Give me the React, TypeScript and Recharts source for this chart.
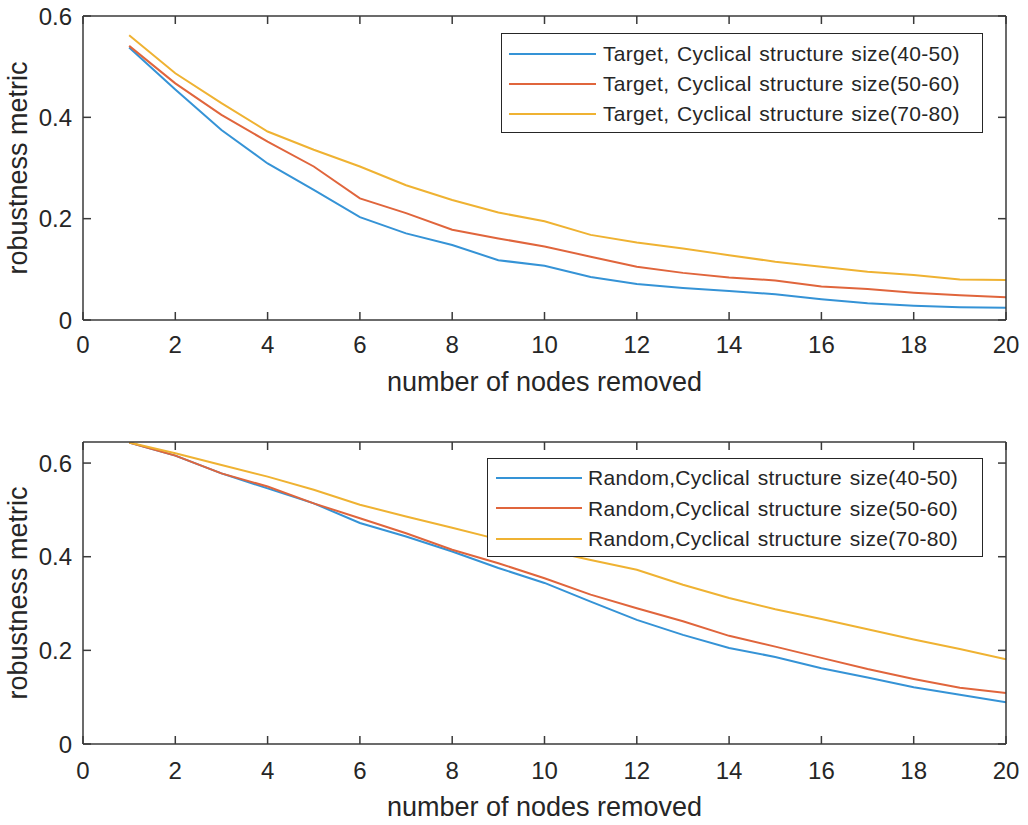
import React from 'react';
import { LineChart, Line, XAxis, YAxis, Legend } from 'recharts';

const nodesRemoved = [1, 2, 3, 4, 5, 6, 7, 8, 9, 10, 11, 12, 13, 14, 15, 16, 17, 18, 19, 20];
const xTicks = [0, 2, 4, 6, 8, 10, 12, 14, 16, 18, 20];
const yTicks = [0, 0.2, 0.4, 0.6];

const targetNames = [
  'Target, Cyclical structure size(40-50)',
  'Target, Cyclical structure size(50-60)',
  'Target, Cyclical structure size(70-80)',
];
const targetSize4050 = [0.538, 0.455, 0.375, 0.309, 0.257, 0.203, 0.171, 0.148, 0.118, 0.107, 0.085, 0.071, 0.063, 0.057, 0.051, 0.041, 0.033, 0.028, 0.025, 0.024];
const targetSize5060 = [0.541, 0.467, 0.405, 0.352, 0.303, 0.240, 0.211, 0.178, 0.161, 0.145, 0.125, 0.105, 0.093, 0.084, 0.078, 0.066, 0.061, 0.054, 0.049, 0.045];
const targetSize7080 = [0.562, 0.487, 0.428, 0.372, 0.336, 0.303, 0.266, 0.237, 0.212, 0.195, 0.168, 0.153, 0.141, 0.128, 0.115, 0.105, 0.095, 0.089, 0.080, 0.079];

const randomNames = [
  'Random,Cyclical structure size(40-50)',
  'Random,Cyclical structure size(50-60)',
  'Random,Cyclical structure size(70-80)',
];
const randomSize4050 = [0.644, 0.616, 0.578, 0.546, 0.514, 0.472, 0.443, 0.411, 0.376, 0.344, 0.304, 0.265, 0.233, 0.205, 0.186, 0.162, 0.142, 0.121, 0.105, 0.089];
const randomSize5060 = [0.644, 0.616, 0.578, 0.550, 0.514, 0.482, 0.450, 0.415, 0.386, 0.354, 0.319, 0.290, 0.262, 0.231, 0.208, 0.184, 0.160, 0.139, 0.120, 0.109];
const randomSize7080 = [0.644, 0.621, 0.596, 0.571, 0.543, 0.511, 0.486, 0.462, 0.437, 0.415, 0.393, 0.372, 0.340, 0.312, 0.288, 0.267, 0.245, 0.223, 0.203, 0.181];

const seriesColors = ['#3593d6', '#e0653c', '#efb232'];
const xLabel = 'number of nodes removed';
const yLabel = 'robustness metric';

const FONT = '"Liberation Sans", Arial, Helvetica, sans-serif';
const INK = '#262626';
const AXIS = '#3a3a3a';
const TICK_LEN = 8;
const TICK_FONT = 24;

function buildRows(a: number[], b: number[], c: number[]) {
  return nodesRemoved.map((n, i) => ({ n, s1: a[i], s2: b[i], s3: c[i] }));
}

const targetRows = buildRows(targetSize4050, targetSize5060, targetSize7080);
const randomRows = buildRows(randomSize4050, randomSize5060, randomSize7080);

const fmt = (v: number) => String(v);

function makeBottomTick(margin: number) {
  return (props: any) => {
    const { x, y, payload } = props;
    const axisY = y - margin;
    return (
      <g>
        <line x1={x} x2={x} y1={axisY} y2={axisY - TICK_LEN} stroke={AXIS} strokeWidth={1.5} />
        <text x={x} y={y} dy="0.71em" textAnchor="middle" fontSize={TICK_FONT} fill={INK} fontFamily={FONT}>
          {fmt(payload.value)}
        </text>
      </g>
    );
  };
}

function makeLeftTick(margin: number) {
  return (props: any) => {
    const { x, y, payload } = props;
    const axisX = x + margin;
    return (
      <g>
        <line x1={axisX} x2={axisX + TICK_LEN} y1={y} y2={y} stroke={AXIS} strokeWidth={1.5} />
        <text x={x} y={y} dy="0.355em" textAnchor="end" fontSize={TICK_FONT} fill={INK} fontFamily={FONT}>
          {fmt(payload.value)}
        </text>
      </g>
    );
  };
}

const TopTick = (props: any) => {
  const { x, y } = props;
  return <line x1={x} x2={x} y1={y} y2={y + TICK_LEN} stroke={AXIS} strokeWidth={1.5} />;
};

const RightTick = (props: any) => {
  const { x, y } = props;
  return <line x1={x} x2={x - TICK_LEN} y1={y} y2={y} stroke={AXIS} strokeWidth={1.5} />;
};

type LegendCfg = { left: number; top: number; width: number; height: number; padTop: number; rowH: number; lineLeft: number; lineW: number; gap: number };

function makeLegend(cfg: LegendCfg) {
  return (props: any) => {
    const payload = (props.payload || []).filter((e: any) => e.type !== 'none');
    return (
      <div
        style={{
          boxSizing: 'border-box',
          width: cfg.width,
          height: cfg.height,
          border: `1.5px solid ${INK}`,
          background: '#fff',
          paddingTop: cfg.padTop,
          fontFamily: FONT,
        }}
      >
        {payload.map((e: any, i: number) => (
          <div key={i} style={{ display: 'flex', alignItems: 'center', height: cfg.rowH, paddingLeft: cfg.lineLeft }}>
            <svg width={cfg.lineW} height={4} style={{ display: 'block' }}>
              <line x1={0} y1={2} x2={cfg.lineW} y2={2} stroke={e.color} strokeWidth={2} />
            </svg>
            <span
              style={{
                marginLeft: cfg.gap,
                fontSize: 21,
                color: INK,
                whiteSpace: 'pre',
                lineHeight: 1,
                letterSpacing: 0.3,
                wordSpacing: 1.5,
              }}
            >
              {e.value}
            </span>
          </div>
        ))}
      </div>
    );
  };
}

type PanelProps = {
  rows: any[];
  names: string[];
  height: number;
  marginTop: number;
  marginBottom: number;
  xAxisHeight: number;
  xTickMargin: number;
  yMax: number;
  legend: LegendCfg;
};

const Y_TICK_MARGIN = 11;

function Panel(p: PanelProps) {
  return (
    <LineChart
      width={1028}
      height={p.height}
      data={p.rows}
      margin={{ top: p.marginTop - 1, right: 21, left: 0, bottom: p.marginBottom }}
      style={{ fontFamily: FONT }}
    >
      <XAxis
        xAxisId="b"
        type="number"
        dataKey="n"
        domain={[0, 20]}
        ticks={xTicks}
        interval={0}
        height={p.xAxisHeight}
        tickSize={0}
        tickMargin={p.xTickMargin}
        tick={makeBottomTick(p.xTickMargin)}
        stroke={AXIS}
        strokeWidth={1.5}
        allowDataOverflow
        label={{ value: xLabel, position: 'insideBottom', offset: 0, fontSize: 27, fill: INK, fontFamily: FONT }}
      />
      <XAxis
        xAxisId="t"
        orientation="top"
        type="number"
        dataKey="n"
        domain={[0, 20]}
        ticks={xTicks}
        interval={0}
        height={1}
        tickSize={0}
        tickMargin={0}
        tick={TopTick}
        stroke={AXIS}
        strokeWidth={1.5}
        allowDataOverflow
      />
      <YAxis
        yAxisId="l"
        type="number"
        domain={[0, p.yMax]}
        ticks={yTicks}
        interval={0}
        width={83}
        tickSize={0}
        tickMargin={Y_TICK_MARGIN}
        tick={makeLeftTick(Y_TICK_MARGIN)}
        stroke={AXIS}
        strokeWidth={1.5}
        allowDataOverflow
        label={{ value: yLabel, angle: -90, position: 'insideLeft', offset: 17, fontSize: 27, fill: INK, fontFamily: FONT, style: { textAnchor: 'middle' } }}
      />
      <YAxis
        yAxisId="r"
        orientation="right"
        type="number"
        domain={[0, p.yMax]}
        ticks={yTicks}
        interval={0}
        width={1}
        tickSize={0}
        tickMargin={0}
        tick={RightTick}
        stroke={AXIS}
        strokeWidth={1.5}
        allowDataOverflow
      />
      <Line
        xAxisId="t"
        yAxisId="r"
        dataKey="s1"
        stroke="none"
        strokeWidth={0}
        dot={false}
        activeDot={false}
        legendType="none"
        isAnimationActive={false}
      />
      {['s1', 's2', 's3'].map((k, i) => (
        <Line
          key={k}
          xAxisId="b"
          yAxisId="l"
          type="linear"
          dataKey={k}
          name={p.names[i]}
          stroke={seriesColors[i]}
          strokeWidth={2}
          dot={false}
          activeDot={false}
          isAnimationActive={false}
        />
      ))}
      <Legend
        layout="horizontal"
        verticalAlign="middle"
        align="center"
        content={makeLegend(p.legend)}
        wrapperStyle={{ left: p.legend.left, top: p.legend.top, width: p.legend.width, height: p.legend.height }}
      />
    </LineChart>
  );
}

export default function App() {
  return (
    <div style={{ position: 'absolute', left: 0, top: 0, width: 1028, height: 825, background: '#fff', fontFamily: FONT }}>
      <div style={{ position: 'absolute', left: 0, top: 0 }}>
        <Panel
          rows={targetRows}
          names={targetNames}
          height={412}
          marginTop={16}
          marginBottom={21}
          xAxisHeight={71}
          xTickMargin={16}
          yMax={0.6}
          legend={{ left: 501, top: 33, width: 482, height: 100, padTop: 4.5, rowH: 30, lineLeft: 7, lineW: 87, gap: 7 }}
        />
      </div>
      <div style={{ position: 'absolute', left: 0, top: 412 }}>
        <Panel
          rows={randomRows}
          names={randomNames}
          height={413}
          marginTop={30}
          marginBottom={9}
          xAxisHeight={72}
          xTickMargin={18}
          yMax={0.645}
          legend={{ left: 487, top: 46, width: 496, height: 99, padTop: 3.5, rowH: 30.6, lineLeft: 8, lineW: 86, gap: 6 }}
        />
      </div>
    </div>
  );
}
